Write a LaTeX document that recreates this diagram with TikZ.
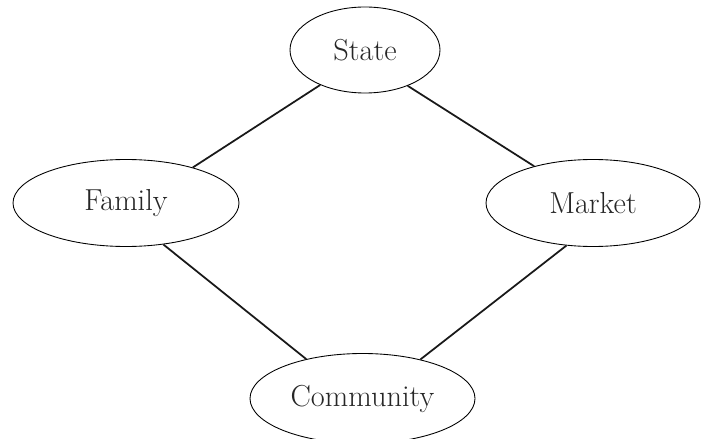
\documentclass[tikz,border=0pt]{standalone}
\usetikzlibrary{shapes.geometric, positioning}
\tikzstyle{sector} = [ellipse, draw=black, line width=0.5pt, minimum width=4.5cm, minimum height=1.74cm, inner sep=0pt, text=black!85, font=\LARGE]
\tikzstyle{link} = [line width=1pt, draw=black!90]

\begin{document}
\begin{tikzpicture}
    \useasboundingbox (0,0) rectangle (14.06,-8.78);
    \node (State) [sector, minimum width=3cm, minimum height=1.72cm] at (7.30,-1.00) {State};
    \node (Family) [sector, minimum width=4.52cm] at (2.52,-4.06) {Family};
    \node (Market) [sector, minimum width=4.28cm] at (11.86,-4.06) {Market};
    \node (Community) [sector, minimum height=1.8cm] at (7.25,-7.97) {Community};
    \draw [link] (State.-142) -- (Family.28);
    \draw [link] (State.-40) -- (Market.148);
    \draw [link] (Family.-48) -- (Community.145);
    \draw [link] (Market.-122) -- (Community.34);
\end{tikzpicture}
\end{document}
